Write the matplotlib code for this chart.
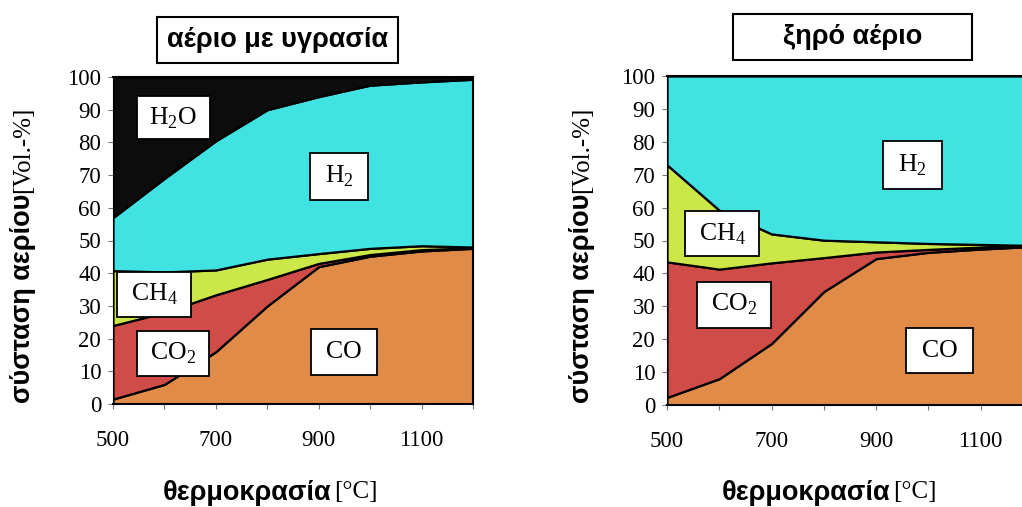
import matplotlib
matplotlib.use("Agg")
import matplotlib.pyplot as plt
import matplotlib.transforms as mtransforms
from matplotlib.patches import Rectangle
from matplotlib.ticker import FixedLocator

# temperature grid [°C]
temps = [500, 600, 700, 800, 900, 1000, 1100, 1200]

# wet gas composition [Vol.-%]
wet_co = [1.5, 6, 16, 30, 42, 45.2, 46.8, 47.6]
wet_co2 = [22.5, 22, 17.4, 8.1, 1.0, 0.5, 0.4, 0.2]
wet_ch4 = [16.8, 12.4, 7.6, 6.2, 3.0, 1.9, 1.2, 0.2]
wet_h2 = [16.2, 28.6, 39.5, 45.7, 48, 49.9, 50.1, 51.3]
wet_h2o = [43, 31, 19.5, 10, 6, 2.5, 1.5, 0.7]

# dry gas composition [Vol.-%]
dry_co = [2.3, 8, 18.7, 34.5, 44.5, 46.4, 47.4, 48.2]
dry_co2 = [41.2, 33.3, 24.5, 10.3, 2.0, 0.9, 0.6, 0.2]
dry_ch4 = [29.5, 17.9, 8.8, 5.3, 3.1, 1.8, 0.8, 0.1]
dry_h2 = [27, 40.8, 48, 49.9, 50.4, 50.9, 51.2, 51.5]

titles = ["αέριο με υγρασία", "ξηρό αέριο"]
xlabel = "θερμοκρασία"
xunit = "[°C]"
ylabel = "σύσταση αερίου"
yunit = "[Vol.-%]"

c_co = "#e08c48"
c_co2 = "#d04c48"
c_ch4 = "#cce848"
c_h2 = "#40e2e2"
c_h2o = "#0c0c0c"

serif = "Liberation Serif"
sans = "Liberation Sans"

W, H = 1022, 507
fig = plt.figure(figsize=(W / 100, H / 100), dpi=100)


def fx(px):
    return px / W


def fy(py):
    return 1 - py / H


ax1 = fig.add_axes([fx(113), fy(404), fx(360), 327 / H])
ax2 = fig.add_axes([fx(667), fy(405), fx(366), 329 / H])


def label(ax, x, y, s, w, h):
    # white box of fixed pixel size centred on (x, y)
    trans = fig.dpi_scale_trans + mtransforms.ScaledTranslation(x, y, ax.transData)
    ax.add_patch(Rectangle((-w / 200, -h / 200), w / 100, h / 100,
                           transform=trans, fc="white", ec="black", lw=1.3,
                           zorder=5, clip_on=False))
    ax.text(x, y, s, ha="center", va="center", fontsize=18.5, family=serif,
            zorder=6)


ax1.stackplot(temps, wet_co, wet_co2, wet_ch4, wet_h2, wet_h2o,
              colors=[c_co, c_co2, c_ch4, c_h2, c_h2o],
              edgecolor="black", linewidth=1.6)
label(ax1, 617, 87.5, r"H$_\mathregular{2}$O", 73, 43)
label(ax1, 940, 69.5, r"H$_\mathregular{2}$", 58, 47)
label(ax1, 580, 33.5, r"CH$_\mathregular{4}$", 74, 45)
label(ax1, 617, 15.5, r"CO$_\mathregular{2}$", 72, 45)
label(ax1, 949, 16, "CO", 66, 46)

ax2.stackplot(temps, dry_co, dry_co2, dry_ch4, dry_h2,
              colors=[c_co, c_co2, c_ch4, c_h2],
              edgecolor="black", linewidth=1.6)
label(ax2, 970, 73, r"H$_\mathregular{2}$", 59, 48)
label(ax2, 605, 52, r"CH$_\mathregular{4}$", 74, 45)
label(ax2, 628, 30.5, r"CO$_\mathregular{2}$", 74, 46)
label(ax2, 1022, 16.5, "CO", 67, 45)

for ax in (ax1, ax2):
    ax.set_xlim(500, 1200)
    ax.set_ylim(0, 100)
    ax.xaxis.set_major_locator(FixedLocator([500, 700, 900, 1100]))
    ax.xaxis.set_minor_locator(FixedLocator([600, 800, 1000, 1200]))
    ax.set_yticks(range(0, 101, 10))
    ax.tick_params(which="both", direction="out", length=3.5, width=0.8,
                   color="#777777")
    ax.tick_params(axis="x", pad=15)
    ax.tick_params(axis="y", pad=5)
    for t in ax.get_xticklabels() + ax.get_yticklabels():
        t.set_family(serif)
        t.set_fontsize(16.5)
    for sp in ax.spines.values():
        sp.set_linewidth(1.5)
        sp.set_color("black")
    ax.spines["left"].set_linewidth(0.8)

# title boxes
for (x0, x1, y0, y1), t in zip([(157, 398, 17, 63), (733, 972, 14, 60)], titles):
    fig.patches.append(Rectangle((fx(x0), fy(y1)), fx(x1 - x0), (y1 - y0) / H,
                                 transform=fig.transFigure, fill=False,
                                 ec="black", lw=1.5))
    fig.text(fx((x0 + x1) / 2), fy((y0 + y1) / 2), t, ha="center", va="center",
             fontsize=19.5, family=sans, fontweight="bold")

# axis labels: greek part in sans bold, unit in serif right after it
ylab = [fig.text(fx(gx), fy(403), ylabel, rotation=90, ha="center",
                 va="bottom", fontsize=19.5, family=sans, fontweight="bold")
        for gx in (23, 582)]
xlab = [fig.text(fx(gx), fy(493), xlabel, ha="left", va="center",
                 fontsize=19.5, family=sans, fontweight="bold")
        for gx in (163, 722)]

fig.canvas.draw()
r = fig.canvas.get_renderer()
for t in ylab:
    bb = t.get_window_extent(r)
    fig.text((bb.x0 + bb.x1) / 2 / W, (bb.y1 + 1) / H, yunit, rotation=90,
             ha="center", va="bottom", fontsize=18, family=serif)
for t in xlab:
    bb = t.get_window_extent(r)
    fig.text((bb.x1 + 2) / W, fy(492), xunit, ha="left", va="center",
             fontsize=18, family=serif)

fig.savefig("out.png", dpi=100)
